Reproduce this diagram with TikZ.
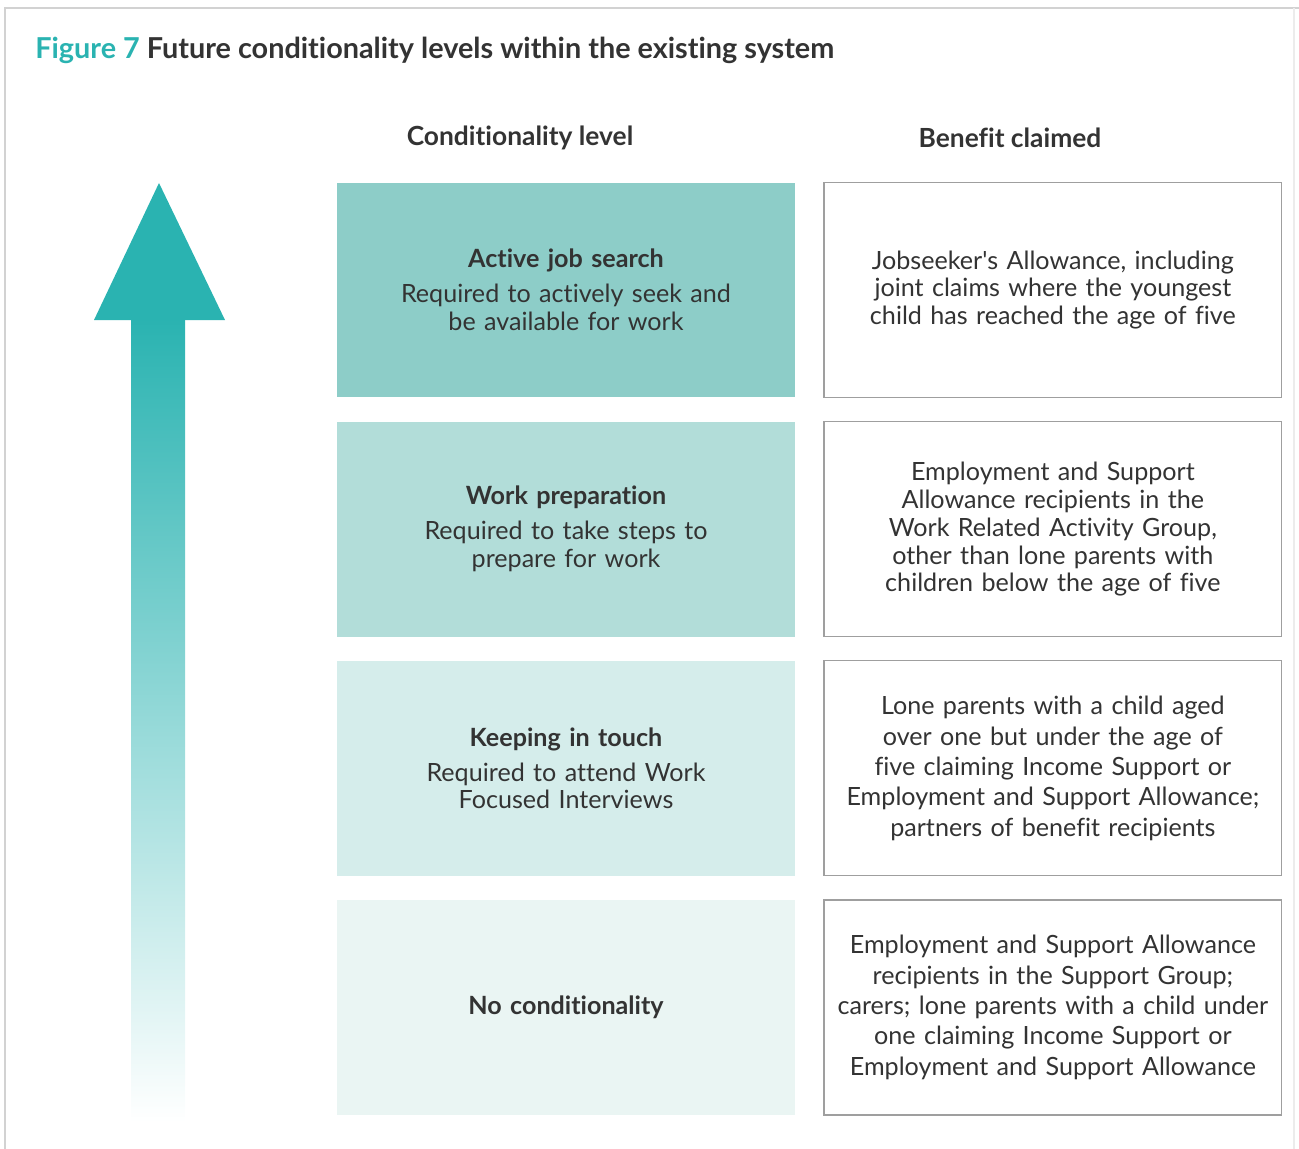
\documentclass[tikz,border=0pt]{standalone}
\usepackage{fontspec}
\setmainfont{Lato}[Ligatures={TeX,NoCommon}]
\usetikzlibrary{positioning}
\definecolor{tealdark}{HTML}{2AB3B1}
\definecolor{lvlA}{HTML}{8DCDC8}
\definecolor{lvlB}{HTML}{B2DDD9}
\definecolor{lvlC}{HTML}{D5EDEB}
\definecolor{lvlD}{HTML}{EAF5F3}
\definecolor{ink}{HTML}{333333}
\begin{document}
\begin{tikzpicture}[x=0.02cm, y=-0.02cm,
  level/.style={minimum width=9.16cm, minimum height=4.3cm, text width=9.1cm,
    align=center, inner sep=0pt, text=ink,
    font=\fontsize{14.3}{15.9}\selectfont},
  claim/.style={level, draw=gray!75, line width=0.7pt, fill=white},
  colhead/.style={font=\fontsize{15}{18}\selectfont\bfseries, text=ink}]
\useasboundingbox (0,0) rectangle (1299,1149);
\draw [gray!35, line width=1.2pt] (5,1149) -- (5,8) -- (1299,8);
\draw [gray!15, line width=0.8pt] (1294,8) -- (1294,1149);

\node [anchor=west, inner sep=0pt, font=\fontsize{16.4}{19}\selectfont\bfseries, text=ink] (title) at (35,50)
  {\textcolor{tealdark}{Figure 7} Future conditionality levels within the existing system};
\node [colhead] (hdlevel) at (520,138) {Conditionality level};
\node [colhead] (hdclaim) at (1010,138) {Benefit claimed};

% arrow
\fill [tealdark] (159,183) -- (225,320) -- (94,320) -- cycle;
\shade [top color=tealdark, bottom color=white] (131,319) rectangle (185,1122);

% levels
\node [level, fill=lvlA] (lvl1) at (566,290)
  {{\bfseries Active job search}\\[4pt]Required to actively seek and\\be available for work};
\node [level, fill=lvlB, below=0.47cm of lvl1] (lvl2)
  {{\bfseries Work preparation}\\[4pt]Required to take steps to\\prepare for work};
\node [level, fill=lvlC, below=0.47cm of lvl2] (lvl3)
  {{\bfseries Keeping in touch}\\[4pt]Required to attend Work\\Focused Interviews};
\node [level, fill=lvlD, below=0.47cm of lvl3] (lvl4)
  {{\bfseries No conditionality}};

% benefits
\node [claim, right=0.56cm of lvl1] (claim1)
  {Jobseeker\textquotesingle s Allowance, including\\joint claims where the youngest\\child has reached the age of five};
\node [claim, right=0.56cm of lvl2] (claim2)
  {Employment and Support\\Allowance recipients in the\\Work Related Activity Group,\\other than lone parents with\\children below the age of five};
\node [claim, right=0.56cm of lvl3, font=\fontsize{14.3}{17.3}\selectfont] (claim3)
  {Lone parents with a child aged\\over one but under the age of\\five claiming Income Support or\\Employment and Support Allowance;\\partners of benefit recipients};
\node [claim, right=0.56cm of lvl4, font=\fontsize{14.3}{17.3}\selectfont] (claim4)
  {Employment and Support Allowance\\recipients in the Support Group;\\carers; lone parents with a child under\\one claiming Income Support or\\Employment and Support Allowance};
\end{tikzpicture}
\end{document}
